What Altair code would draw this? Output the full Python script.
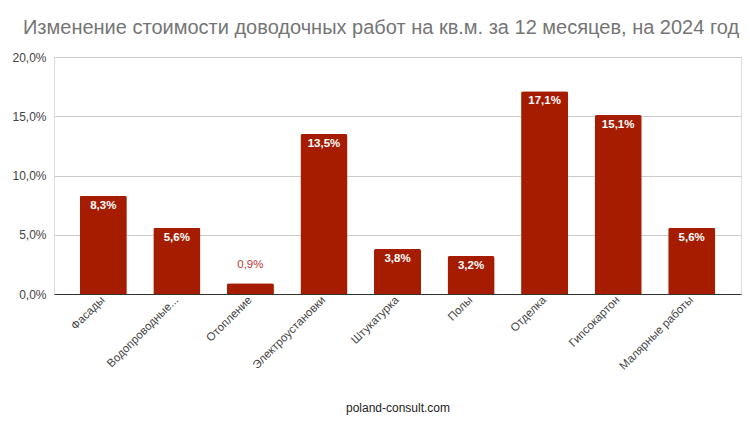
import altair as alt
import pandas as pd

categories = ["Фасады", "Водопроводные...", "Отопление", "Электроустановки",
              "Штукатурка", "Полы", "Отделка", "Гипсокартон", "Малярные работы"]
values = [0.083, 0.056, 0.009, 0.135, 0.038, 0.032, 0.171, 0.151, 0.056]
labels = ["8,3%", "5,6%", "0,9%", "13,5%", "3,8%", "3,2%", "17,1%", "15,1%", "5,6%"]
y_ticks = [0, 0.05, 0.10, 0.15, 0.20]

df = pd.DataFrame({"cat": categories, "val": values, "lab": labels})

FONT = "Liberation Sans"
BAR = "#a61c00"

x = alt.X("cat:N", sort=categories,
          scale=alt.Scale(paddingInner=0.36, paddingOuter=0.35),
          axis=alt.Axis(title="poland-consult.com", labelAngle=-45, labelAlign="right",
                        labelBaseline="middle", labelColor="#444444", labelFontSize=11.5,
                        labelFont=FONT, ticks=False, domainColor="#333333",
                        titleFont=FONT, titleFontSize=12, titleFontWeight="normal",
                        titleColor="#222222", titleY=113, titleBaseline="middle",
                        labelPadding=4, labelLimit=200))
y = alt.Y("val:Q", scale=alt.Scale(domain=[0, 0.2]),
          axis=alt.Axis(title=None, values=y_ticks, domain=False, ticks=False,
                        labelExpr="replace(format(datum.value, '.1%'), '.', ',')",
                        labelColor="#444444", labelFontSize=12, labelFont=FONT,
                        labelPadding=8, gridColor="#cccccc"))

base = alt.Chart(df)
bars = base.mark_bar(color=BAR, cornerRadiusTopLeft=2, cornerRadiusTopRight=2).encode(x=x, y=y)
inside = base.transform_filter("datum.val >= 0.02").mark_text(
    baseline="middle", dy=10, color="white", fontWeight="bold", fontSize=11.5, font=FONT
).encode(x=alt.X("cat:N", sort=categories), y="val:Q", text="lab:N")
outside = base.transform_filter("datum.val < 0.02").mark_text(
    baseline="middle", dy=-18, color="#c0392b", fontSize=11.5, font=FONT
).encode(x=alt.X("cat:N", sort=categories), y="val:Q", text="lab:N")

chart = alt.layer(bars, inside, outside).properties(
    width=687, height=237,
    title=alt.TitleParams("Изменение стоимости доводочных работ на кв.м. за 12 месяцев, на 2024 год",
                          font=FONT, fontSize=20, fontWeight="normal", color="#757575",
                          anchor="start", dx=11, offset=13),
    autosize=alt.AutoSizeParams(type="none"),
    padding={"left": 54, "top": 57, "right": 9, "bottom": 137},
).configure_view(stroke=None).configure(background="white")

chart.save("out.html", embed_options={"renderer": "svg", "actions": False})
